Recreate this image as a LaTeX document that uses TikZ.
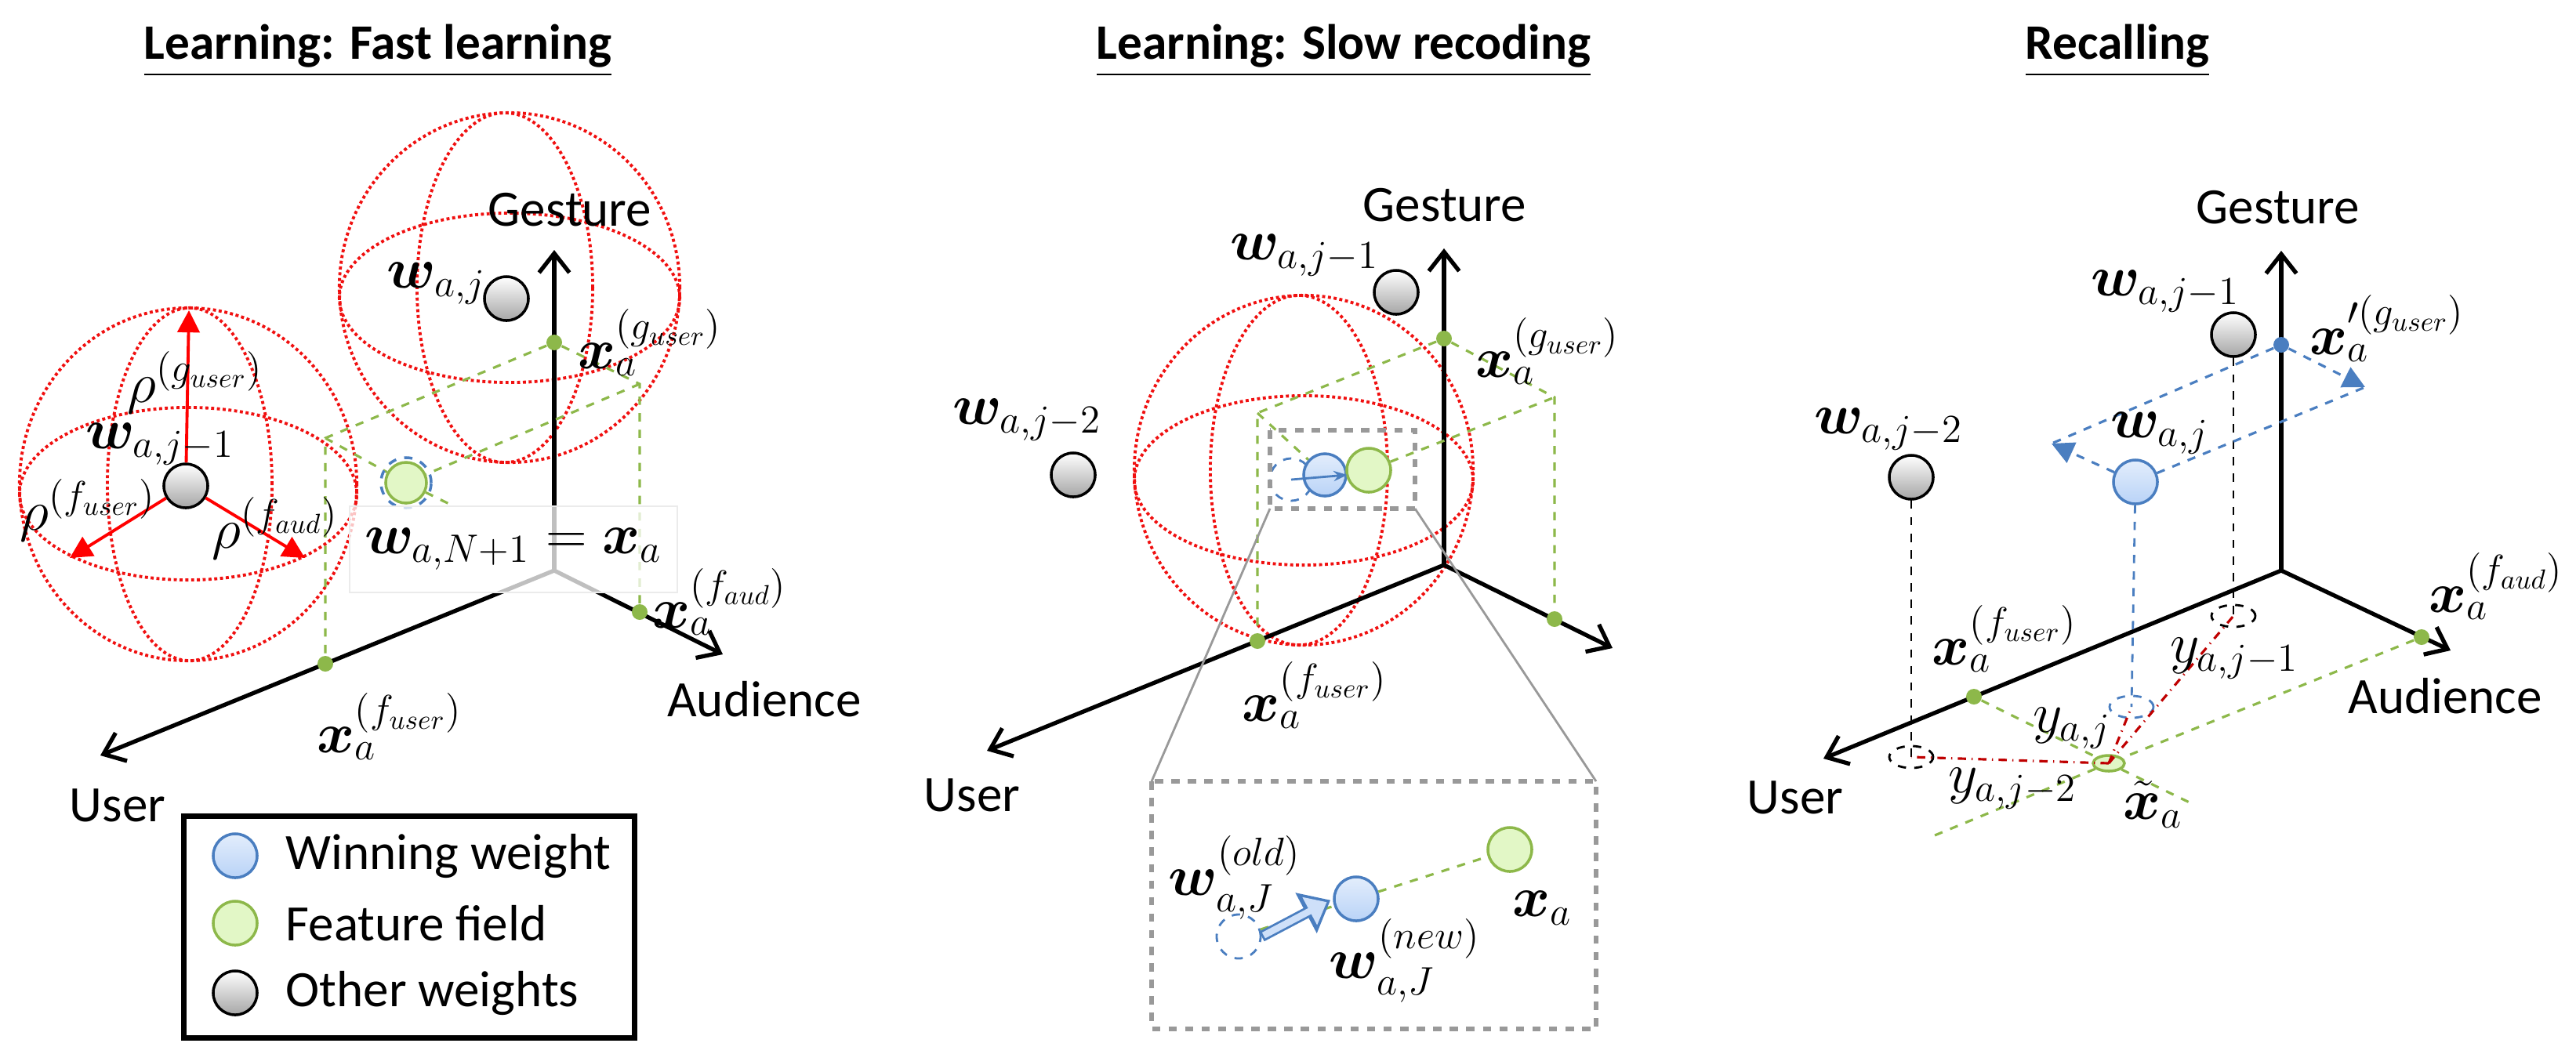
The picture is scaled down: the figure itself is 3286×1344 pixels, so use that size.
\documentclass[tikz,border=0pt]{standalone}
\usepackage{amsmath,bm}
\usepackage{fontspec}
\setmainfont{Carlito}
\usetikzlibrary{arrows.meta,shapes.geometric}
\definecolor{gline}{HTML}{8DB84A}
\definecolor{gfill}{HTML}{E2F7C6}
\definecolor{bline}{HTML}{4A7EC0}
\definecolor{bfill}{HTML}{B9D3F7}
\definecolor{sph}{HTML}{F01010}
\begin{document}
\begin{tikzpicture}[x=0.01cm,y=-0.01cm,
  lab/.style={font=\fontsize{18.5}{22}\selectfont,inner sep=0pt},
  mlab/.style={font=\fontsize{20}{24}\selectfont,inner sep=0pt},
  ttl/.style={font=\fontsize{18}{21}\selectfont\bfseries,inner sep=1pt},
  axis/.style={line width=1.5pt,-{Straight Barb[length=7pt,width=11pt,line width=1.5pt]}},
  gdash/.style={gline,dashed,line width=0.9pt},
  sphere/.style={sph,densely dotted,line width=1.1pt},
  ball/.style={circle,draw=black,line width=1pt,minimum size=0.56cm,inner sep=0pt,top color=white,bottom color=black!35},
  bball/.style={circle,draw=bline,line width=1pt,minimum size=0.56cm,inner sep=0pt,top color=bfill!40,bottom color=bfill},
  fball/.style={circle,draw=gline,line width=1pt,minimum size=0.52cm,inner sep=0pt,fill=gfill},
  gdot/.style={circle,fill=gline,minimum size=0.2cm,inner sep=0pt},
  ring/.style={ellipse,draw,dashed,line width=0.8pt,minimum width=0.56cm,minimum height=0.28cm,inner sep=0pt},
  rarr/.style={red,line width=1.1pt,-{Triangle[length=8pt,width=8pt]}}
]
\useasboundingbox (0,0) rectangle (3286,1344);

% ---------------- titles
\node[ttl] (t1) at (482,65) {\underline{Learning: Fast learning}};
\node[ttl] (t2) at (1714,65) {\underline{Learning: Slow recoding}};
\node[ttl] (t3) at (2701,65) {\underline{Recalling}};

% ================= PANEL 1
\coordinate (O1) at (707,728); \coordinate (G1) at (707,319);
\coordinate (U1) at (128,964); \coordinate (A1) at (922,835);
\coordinate (L1) at (415,559); \coordinate (R1) at (816,490);
\coordinate (E1) at (577,645);
\draw[sphere] (240,618) ellipse [x radius=2.15cm,y radius=2.25cm];
\draw[sphere] (240,630) ellipse [x radius=2.15cm,y radius=1.10cm];
\draw[sphere] (242,618) ellipse [x radius=1.05cm,y radius=2.25cm];
\draw[sphere] (650,367) ellipse [x radius=2.17cm,y radius=2.23cm];
\draw[sphere] (650,380) ellipse [x radius=2.17cm,y radius=1.08cm];
\draw[sphere] (644,367) ellipse [x radius=1.12cm,y radius=2.23cm];
\draw[axis] (O1) -- (G1);
\draw[axis] (O1) -- (U1);
\draw[axis] (O1) -- (A1);
\node[lab] (g1) at (727,268) {Gesture};
\node[lab] (a1) at (975,892) {Audience};
\node[lab] (u1) at (150,1028) {User};
\node[gdot] (gp1) at (707,437) {};
\node[gdot] (up1) at (415,847) {};
\node[gdot] (ap1) at (816,781) {};
\node[fball] (F1) at (518,616) {};
\draw[gdash] (gp1) -- (L1) -- (up1);
\draw[gdash] (gp1) -- (R1) -- (ap1);
\draw[gdash] (L1) -- (F1); \draw[gdash] (F1) -- (E1);
\draw[gdash] (R1) -- (F1);
\draw[bline,dashed,line width=1pt] (F1) circle [radius=0.32cm];
\node[fill=white,fill opacity=0.75,text opacity=1,minimum width=4.18cm,minimum height=1.1cm,draw=black!8,mlab] (wn) at (655,701) {$\bm{w}_{a,N+1}=\bm{x}_a$};
\node[ball] (w1) at (237,620) {};
\node[ball] (w2) at (646,381) {};
\coordinate (r1) at (241,396); \coordinate (r2) at (89,712); \coordinate (r3) at (389,712);
\draw[rarr] (w1) -- (r1);
\draw[rarr] (w1) -- (r2);
\draw[rarr] (w1) -- (r3);
\node[mlab] at (249,488) {$\rho^{(g_{user})}$};
\node[mlab] at (112,651) {$\rho^{(f_{user})}$};
\node[mlab] at (351,674) {$\rho^{(f_{aud})}$};
\node[mlab] at (204,567) {$\bm{w}_{a,j-1}$};
\node[mlab,anchor=east] at (620,362) {$\bm{w}_{a,j}$};
\node[mlab] at (829,437) {$\bm{x}_a^{(g_{user})}$};
\node[mlab] at (918,768) {$\bm{x}_a^{(f_{aud})}$};
\node[mlab] at (497,927) {$\bm{x}_a^{(f_{user})}$};

% legend
\node[draw,line width=2pt,minimum width=5.74cm,minimum height=2.83cm,inner sep=0pt] (leg) at (522,1183) {};
\node[bball] (lb) at (300,1092) {};
\node[fball,minimum size=0.56cm] (lf) at (300,1178) {};
\node[ball] (lo) at (300,1267) {};
\node[lab,anchor=west] at (364,1092) {Winning weight};
\node[lab,anchor=west] at (364,1178) {Feature field};
\node[lab,anchor=west] at (364,1267) {Other weights};

% ================= PANEL 2
\coordinate (O2) at (1842,721); \coordinate (G2) at (1842,317);
\coordinate (U2) at (1259,958); \coordinate (A2) at (2057,827);
\coordinate (L2) at (1604,527); \coordinate (R2) at (1983,507);
\draw[sphere] (1663,600) ellipse [x radius=2.16cm,y radius=2.23cm];
\draw[sphere] (1663,613) ellipse [x radius=2.16cm,y radius=1.08cm];
\draw[sphere] (1657,600) ellipse [x radius=1.13cm,y radius=2.23cm];
\draw[axis] (O2) -- (G2);
\draw[axis] (O2) -- (U2);
\draw[axis] (O2) -- (A2);
\node[lab] (g2) at (1843,262) {Gesture};
\node[lab] (u2) at (1240,1015) {User};
\node[gdot] (gp2) at (1842,432) {};
\node[gdot] (up2) at (1604,818) {};
\node[gdot] (ap2) at (1983,790) {};
\node[circle,draw=bline,dashed,line width=0.8pt,minimum size=0.54cm,inner sep=0pt] (old2) at (1647,612) {};
\node[bball,minimum size=0.54cm] (B2) at (1690,606) {};
\node[fball,minimum size=0.56cm] (F2) at (1746,600) {};
\draw[gdash] (gp2) -- (L2) -- (up2);
\draw[gdash] (gp2) -- (R2) -- (ap2);
\draw[gdash] (L2) -- (B2);
\draw[gdash] (F2) -- (R2);
\draw[bline,line width=0.8pt,-{Stealth[length=5pt]}] (old2.center) -- (B2.east);
\draw[black!40,dashed,line width=1.5pt] (1620,549) rectangle (1805,649);
\coordinate (zb1) at (1620,649); \coordinate (zb2) at (1805,649);
\coordinate (in1) at (1469,997); \coordinate (in2) at (2036,997);
\draw[black!40,line width=0.8pt] (zb1) -- (in1);
\draw[black!40,line width=0.8pt] (zb2) -- (in2);
\draw[black!40,dashed,line width=1.5pt] (1469,997) rectangle (2036,1313);
\node[ball] (w21) at (1781,373) {};
\node[ball] (w22) at (1369,606) {};
\node[mlab] at (1664,326) {$\bm{w}_{a,j-1}$};
\node[mlab] at (1310,536) {$\bm{w}_{a,j-2}$};
\node[mlab] at (1974,448) {$\bm{x}_a^{(g_{user})}$};
\node[mlab] at (1677,887) {$\bm{x}_a^{(f_{user})}$};
% inset
\node[circle,draw=bline,dashed,line width=0.8pt,minimum size=0.56cm,inner sep=0pt] (Oi) at (1580,1195) {};
\node[bball] (Bi) at (1730,1147) {};
\node[fball,minimum size=0.56cm] (Fi) at (1926,1084) {};
\draw[gdash] (Oi) -- (Bi);
\draw[gdash] (Bi) -- (Fi);
\draw[bline,line width=4pt,-{Triangle[length=10pt,width=16pt]},shorten >=1pt] (Oi.east) -- (Bi.west);
\draw[bfill!70,line width=2.4pt,-{Triangle[length=7pt,width=11pt]},shorten >=2.5pt,shorten <=0.8pt] (Oi.east) -- (Bi.west);
\node[mlab] at (1575,1120) {$\bm{w}_{a,J}^{(old)}$};
\node[mlab] at (1792,1226) {$\bm{w}_{a,J}^{(new)}$};
\node[mlab] at (1967,1159) {$\bm{x}_a$};

% ================= PANEL 3
\coordinate (O3) at (2910,728); \coordinate (G3) at (2910,320);
\coordinate (U3) at (2326,968); \coordinate (A3) at (3126,830);
\coordinate (Lt) at (2617,566); \coordinate (Rt) at (3017,494);
\draw[axis] (O3) -- (G3);
\draw[axis] (O3) -- (U3);
\draw[axis] (O3) -- (A3);
\node[lab] (g3) at (2906,265) {Gesture};
\node[lab] (a3) at (3119,888) {Audience};
\node[lab] (u3) at (2290,1018) {User};
\node[gdot] (up3) at (2518,889) {};
\node[gdot] (ap3) at (3089,813) {};
\node[circle,fill=bline,minimum size=0.2cm,inner sep=0pt] (bp3) at (2910,440) {};
\node[ellipse,draw=gline,line width=1pt,fill=gfill,minimum width=0.4cm,minimum height=0.2cm,inner sep=0pt] (xt) at (2690,974) {};
\coordinate (ge1) at (2795,1025); \coordinate (ge2) at (2468,1066);
\draw[gdash] (up3) -- (xt) -- (ge1);
\draw[gdash] (ap3) -- (xt) -- (ge2);
\node[ball] (w31) at (2849,427) {};
\node[ball] (w32) at (2438,609) {};
\node[bball] (B3) at (2724,615) {};
\node[ring] (e1) at (2849,786) {};
\node[ring] (e2) at (2438,966) {};
\node[ring,draw=bline] (eb) at (2719,902) {};
\draw[black,dashed,line width=0.8pt] (w31) -- (e1.center);
\draw[black,dashed,line width=0.8pt] (w32) -- (e2.center);
\draw[bline,dashed,line width=0.8pt] (B3) -- (eb.center);
\draw[bline,dashed,line width=0.9pt,-{Triangle[length=8pt,width=8pt]}] (B3) -- (Lt);
\draw[bline,dashed,line width=0.9pt] (bp3) -- (Lt);
\draw[bline,dashed,line width=0.9pt,-{Triangle[length=8pt,width=8pt]}] (bp3) -- (Rt);
\draw[bline,dashed,line width=0.9pt] (B3) -- (Rt);
\draw[red!75!black,dash dot,line width=0.9pt] (xt.center) -- (e1.center);
\draw[red!75!black,dash dot,line width=0.9pt] (xt.center) -- (e2.center);
\draw[red!75!black,dash dot,line width=0.9pt] (xt.center) -- (eb.center);
\node[mlab] at (2762,372) {$\bm{w}_{a,j-1}$};
\node[mlab] at (2409,548) {$\bm{w}_{a,j-2}$};
\node[mlab] at (2755,553) {$\bm{w}_{a,j}$};
\node[mlab] at (3045,419) {$\bm{x}'^{(g_{user})}_a$};
\node[mlab] at (3184,748) {$\bm{x}_a^{(f_{aud})}$};
\node[mlab] at (2557,815) {$\bm{x}_a^{(f_{user})}$};
\node[mlab] at (2850,840) {$y_{a,j-1}$};
\node[mlab] at (2643,929) {$y_{a,j}$};
\node[mlab] at (2567,1006) {$y_{a,j-2}$};
\node[mlab] at (2746,1027) {$\tilde{\bm{x}}_a$};
\end{tikzpicture}
\end{document}
